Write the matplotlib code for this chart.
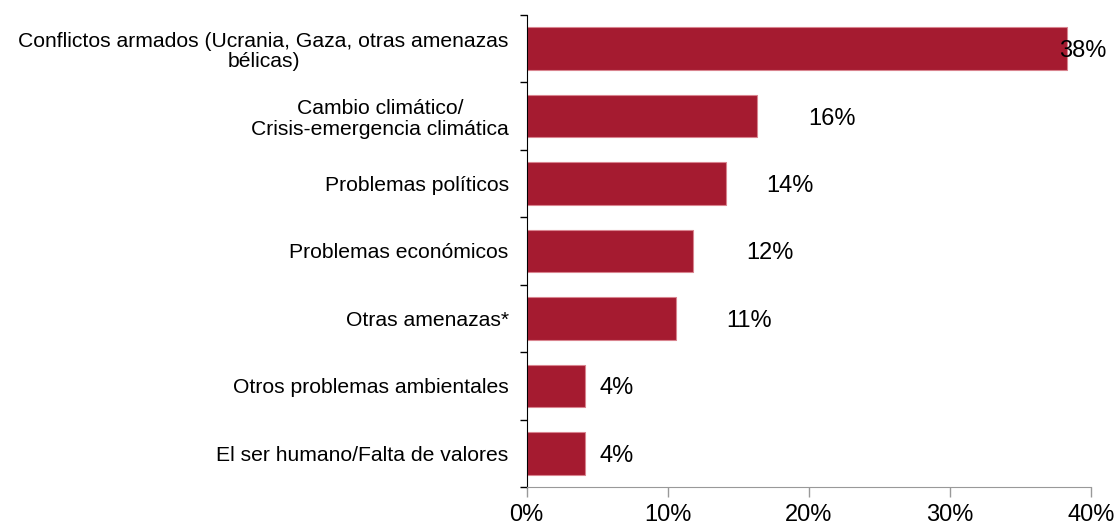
import numpy as np
import matplotlib
matplotlib.use('Agg')
import matplotlib.pyplot as plt
from matplotlib.ticker import FixedLocator, PercentFormatter

plt.rcParams['font.family'] = ['Liberation Sans', 'DejaVu Sans']

categories = ['Conflictos armados (Ucrania, Gaza, otras amenazas\nbélicas)',
              'Cambio climático/\nCrisis-emergencia climática',
              'Problemas políticos',
              'Problemas económicos',
              'Otras amenazas*',
              'Otros problemas ambientales',
              'El ser humano/Falta de valores']
values = [38.3, 16.3, 14.1, 11.8, 10.6, 4.1, 4.1]
value_labels = ['38%', '16%', '14%', '12%', '11%', '4%', '4%']
x_ticks = [0, 10, 20, 30, 40]

# label offsets (data units) from bar end, as placed in the source chart
label_offset = [-0.55, 3.65, 2.85, 3.75, 3.55, 1.05, 1.05]

bar_color = '#a51b30'
edge_color = '#d9848f'

fig = plt.figure(figsize=(11.18, 5.24), dpi=100)
ax = fig.add_axes([0.4711, 0.0706, 0.5047, 0.9008])

y = np.arange(len(categories))
ax.barh(y, values, height=0.63, color=bar_color, edgecolor=edge_color, linewidth=0.8)

for yi, v, lab, off in zip(y, values, value_labels, label_offset):
    ax.text(v + off, yi, lab, va='center_baseline', ha='left', fontsize=17, color='black')

ax.set_xlim(0, 40)
ax.set_ylim(len(categories) - 0.5, -0.5)

ax.set_xticks(x_ticks)
ax.xaxis.set_major_formatter(PercentFormatter(decimals=0))
ax.tick_params(axis='x', length=7, color='#999999', labelsize=17, pad=5, width=1)

ax.set_yticks(y)
ax.set_yticklabels(categories, fontsize=15.2, linespacing=1.1)
ax.tick_params(axis='y', which='major', length=0, pad=13)
ax.yaxis.set_minor_locator(FixedLocator(np.arange(-0.5, len(categories), 1)))
ax.tick_params(axis='y', which='minor', length=5, color='black', width=1)

for lbl in ax.get_yticklabels():
    lbl.set_multialignment('center')

ax.spines['top'].set_visible(False)
ax.spines['right'].set_visible(False)
ax.spines['left'].set_color('black')
ax.spines['bottom'].set_color('#999999')

fig.savefig('out.png', dpi=100)
